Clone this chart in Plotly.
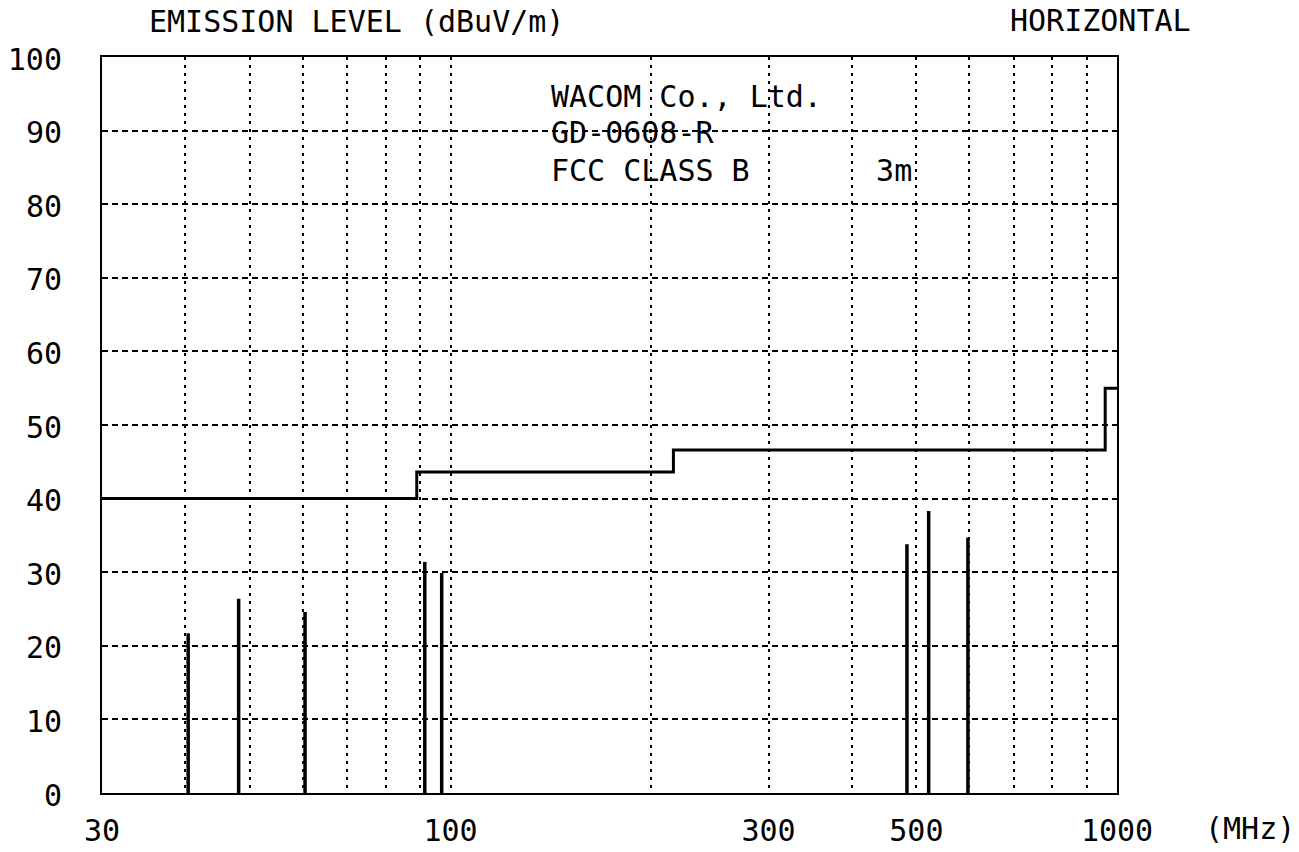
import math
import plotly.graph_objects as go

# ---- data ----
peak_freq_mhz = [40.4, 48.1, 60.5, 91.5, 97.0, 484.0, 521.7, 597.5]
peak_level_db = [21.7, 26.4, 24.6, 31.4, 29.9, 33.8, 38.3, 34.7]

limit_freq_mhz = [30, 89, 216, 960, 1000]
limit_level_db = [40.0, 43.6, 46.6, 55.0, 55.0]

x_grid_vals = [30, 40, 50, 60, 70, 80, 90, 100, 200, 300, 400, 500, 600, 700, 800, 900, 1000]
x_grid_text = ["30", "", "", "", "", "", "", "100", "", "300", "", "500", "", "", "", "", "1000"]
y_tick_vals = [0, 10, 20, 30, 40, 50, 60, 70, 80, 90, 100]

FONT = "DejaVu Sans Mono"
FS = 30

# stems built from the data arrays
stem_x, stem_y = [], []
for f, v in zip(peak_freq_mhz, peak_level_db):
    stem_x += [f, f, None]
    stem_y += [0, v, None]

fig = go.Figure()
fig.add_trace(go.Scatter(x=stem_x, y=stem_y, mode="lines",
                         line=dict(color="black", width=3.5), showlegend=False,
                         hoverinfo="skip"))
fig.add_trace(go.Scatter(x=limit_freq_mhz, y=limit_level_db, mode="lines",
                         line=dict(color="black", width=3, shape="hv"),
                         showlegend=False))

fig.update_layout(
    width=1299, height=852,
    margin=dict(l=102, r=182, t=57, b=59, autoexpand=False),
    paper_bgcolor="white", plot_bgcolor="white",
    font=dict(family=FONT, size=FS, color="black"),
    showlegend=False,
)
fig.update_xaxes(
    type="log", range=[math.log10(30), 3], automargin=False,
    tickmode="array", tickvals=x_grid_vals, ticktext=x_grid_text,
    showgrid=True, gridcolor="black", gridwidth=1.5, griddash="3px,5px",
    showline=True, mirror=True, linecolor="black", linewidth=2,
    ticks="", ticklabelstandoff=10, zeroline=False,
    tickfont=dict(family=FONT, size=FS, color="black"),
)
fig.update_yaxes(
    range=[0, 100], tickmode="array", tickvals=y_tick_vals, automargin=False,
    showgrid=True, gridcolor="black", gridwidth=1.5, griddash="6px,4px",
    showline=True, mirror=True, linecolor="black", linewidth=2,
    ticks="", ticklabelstandoff=32, ticklabelshift=2, zeroline=False,
    tickfont=dict(family=FONT, size=FS, color="black"),
)

def ann(text, x, y, xanchor="left", yanchor="middle"):
    fig.add_annotation(text=text, x=x, y=y, xref="paper", yref="paper",
                       xanchor=xanchor, yanchor=yanchor, showarrow=False,
                       font=dict(family=FONT, size=FS, color="black"))

ann("EMISSION LEVEL (dBuV/m)", 0.044, 1.048)
ann("HORIZONTAL", 0.893, 1.050)
ann("(MHz)", 1.131, -0.048, xanchor="center")
ann("WACOM Co., Ltd.", 0.440, 0.947)
ann("GD-0608-R", 0.440, 0.897)
ann("FCC CLASS B       3m", 0.440, 0.846)

fig.write_html("out.html",
               config={"displayModeBar": False},
               post_script="document.body.style.margin='0';document.body.style.overflow='hidden';")
